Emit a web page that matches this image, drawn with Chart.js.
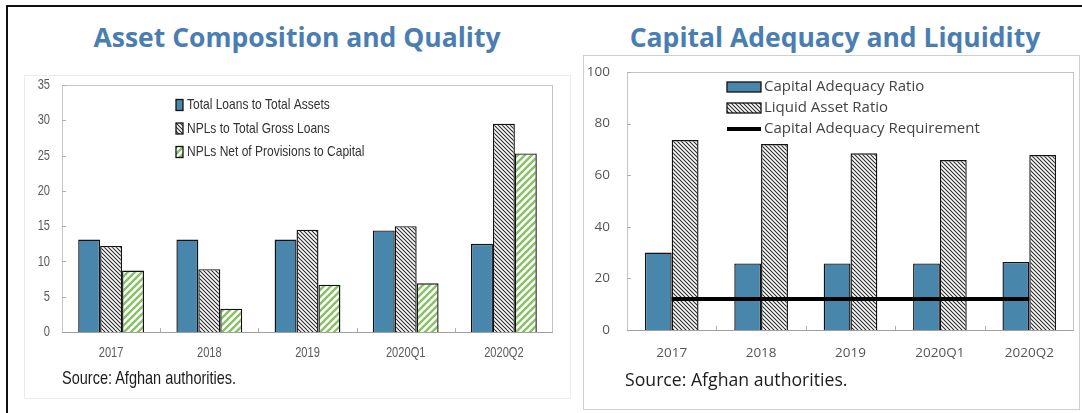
<!DOCTYPE html>
<html><head><meta charset="utf-8">
<script src="https://cdn.jsdelivr.net/npm/chart.js@4.4.1/dist/chart.umd.min.js"></script>
<style>
html,body{margin:0;padding:0;background:#fff}
body{width:1082px;height:413px;position:relative;overflow:hidden;font-family:'Open Sans',sans-serif}
.fTop{position:absolute;left:6px;top:5px;width:1076px;height:2px;background:#111}
.fLeft{position:absolute;left:6px;top:5px;width:2px;height:408px;background:#111}
.title{position:absolute;top:19px;font-weight:700;font-size:26.5px;color:#4a7eb2;text-align:center;white-space:nowrap;line-height:36px}
.panel{position:absolute;box-sizing:border-box}
#p1{left:24px;top:75px;width:547px;height:324px;border:1px solid #ececec}
#p2{left:583px;top:55px;width:497px;height:355px;border:1px solid #cfcfcf}
canvas{position:absolute}
#c1{left:24px;top:75px}
#c2{left:583px;top:55px}
.src{position:absolute;white-space:nowrap;color:#1c1c1c;transform-origin:0 50%}
#s1{left:62px;top:367px;font-family:'Liberation Sans',sans-serif;font-size:18.5px}
#s2{left:625px;top:367px;font-size:17.5px}
</style></head>
<body>
<div class="fTop"></div><div class="fLeft"></div>
<div class="title" style="left:47px;width:500px">Asset Composition and Quality</div>
<div class="title" style="left:585px;width:500px">Capital Adequacy and Liquidity</div>
<div class="panel" id="p1"></div>
<div class="panel" id="p2"></div>
<canvas id="c1" width="546" height="323" style="width:546px;height:323px"></canvas>
<canvas id="c2" width="496" height="354" style="width:496px;height:354px"></canvas>
<div class="src" id="s1">Source: Afghan authorities.</div>
<div class="src" id="s2">Source: Afghan authorities.</div>
<script>
// ---------- data ----------
const categories = ['2017', '2018', '2019', '2020Q1', '2020Q2'];
// Asset Composition and Quality (percent)
const totalLoansToTotalAssets = [13.1, 13.1, 13.1, 14.4, 12.5];
const nplsToTotalGrossLoans = [12.2, 8.9, 14.5, 15.0, 29.5];
const nplsNetOfProvisionsToCapital = [8.7, 3.3, 6.7, 6.9, 25.3];
const leftSeriesNames = ['Total Loans to Total Assets', 'NPLs to Total Gross Loans', 'NPLs Net of Provisions to Capital'];
const leftAxisMax = 35, leftAxisStep = 5;
// Capital Adequacy and Liquidity (percent)
const capitalAdequacyRatio = [30.0, 25.8, 25.8, 25.8, 26.4];
const liquidAssetRatio = [73.6, 72.1, 68.5, 65.9, 67.8];
const capitalAdequacyRequirement = [12, 12, 12, 12, 12];
const rightSeriesNames = ['Capital Adequacy Ratio', 'Liquid Asset Ratio', 'Capital Adequacy Requirement'];
const rightAxisMax = 100, rightAxisStep = 20;

// ---------- styles ----------
const BLUE = '#4886ab';
function hatch(size, color, lw, dir) {
  const c = document.createElement('canvas');
  c.width = size; c.height = size;
  const g = c.getContext('2d');
  g.fillStyle = '#fff'; g.fillRect(0, 0, size, size);
  g.strokeStyle = color; g.lineWidth = lw;
  g.beginPath();
  for (let k = -1; k <= 1; k++) {
    if (dir === 'back') { g.moveTo(k * size - 1, -1); g.lineTo(k * size + size + 1, size + 1); }
    else { g.moveTo(k * size - 1, size + 1); g.lineTo(k * size + size + 1, -1); }
  }
  g.stroke();
  return document.createElement('canvas').getContext('2d').createPattern(c, 'repeat');
}
const grayHatch = hatch(4, '#2a2a2a', 1.1, 'back');
const greenHatch = hatch(7, '#86c163', 2.4, 'fwd');

const lib = "'Liberation Sans',Arial,sans-serif";
const openSans = "'Open Sans',sans-serif";

function condText(ctx, text, x, y, sx, align) {
  ctx.save();
  ctx.translate(x, y);
  ctx.scale(sx, 1);
  ctx.textAlign = align;
  ctx.fillText(text, 0, 0);
  ctx.restore();
}

// plugin: plot frame, inside ticks, condensed tick labels, custom legend
const decor = {
  id: 'decor',
  beforeDatasetsDraw(chart) {
    const {ctx, chartArea: a, scales} = chart;
    ctx.save();
    ctx.strokeStyle = '#c4c4c4'; ctx.lineWidth = 1;
    ctx.strokeRect(a.left + 0.5, a.top + 0.5, a.right - a.left - 1, a.bottom - a.top);
    ctx.strokeStyle = '#b0b0b0';
    ctx.beginPath();
    scales.y.ticks.forEach(t => {
      const y = Math.round(scales.y.getPixelForValue(t.value)) + 0.5;
      ctx.moveTo(a.left, y); ctx.lineTo(a.left + 4, y);
    });
    const n = chart.data.labels.length;
    for (let i = 1; i < n; i++) {
      const x = Math.round((scales.x.getPixelForTick(i - 1) + scales.x.getPixelForTick(i)) / 2) + 0.5;
      ctx.moveTo(x, a.bottom); ctx.lineTo(x, a.bottom - 4);
    }
    ctx.stroke();
    ctx.strokeStyle = '#a0a0a0';
    ctx.beginPath(); ctx.moveTo(a.left, Math.round(a.bottom) + 0.5); ctx.lineTo(a.right, Math.round(a.bottom) + 0.5); ctx.stroke();
    ctx.restore();
  },
  afterDraw(chart, args, o) {
    const {ctx, chartArea: a, scales} = chart;
    ctx.save();
    if (o.labels) {
      const L = o.labels;
      ctx.font = L.font; ctx.fillStyle = L.color; ctx.textBaseline = 'middle';
      scales.y.ticks.forEach(t => {
        condText(ctx, String(t.value), a.left - L.yPad, scales.y.getPixelForValue(t.value), L.sx, 'right');
      });
      chart.data.labels.forEach((lab, i) => {
        condText(ctx, lab, scales.x.getPixelForTick(i), a.bottom + L.xOff, L.sx, 'center');
      });
    }
    ctx.font = o.font; ctx.textBaseline = 'middle';
    o.order.forEach((di, row) => {
      const ds = chart.data.datasets[di];
      const x = a.left + o.dx, y = a.top + o.dy + row * o.rowH;
      if (ds.type === 'line') {
        ctx.strokeStyle = ds.borderColor; ctx.lineWidth = ds.borderWidth;
        ctx.beginPath(); ctx.moveTo(x, y); ctx.lineTo(x + o.bw, y); ctx.stroke();
      } else {
        ctx.fillStyle = ds.backgroundColor;
        ctx.fillRect(x, y - o.bh / 2, o.bw, o.bh);
        ctx.strokeStyle = '#111'; ctx.lineWidth = 1.3;
        ctx.strokeRect(x, y - o.bh / 2, o.bw, o.bh);
      }
      ctx.fillStyle = o.color;
      condText(ctx, ds.label, x + o.bw + o.gap, y, o.sx, 'left');
    });
    ctx.restore();
  }
};

function baseOptions(max, step, yWidth, xHeight, pad, tickFont, yPad, xPad, color, showTicks) {
  return {
    responsive: false, animation: false,
    layout: {padding: pad},
    plugins: {legend: {display: false}, tooltip: {enabled: false}},
    scales: {
      x: {
        grid: {display: false, drawTicks: false, tickLength: 0}, border: {display: false},
        ticks: {display: showTicks, font: tickFont, color: color, padding: xPad, maxRotation: 0},
        afterFit(s) { s.height = xHeight; s.paddingLeft = 0; s.paddingRight = 0; }
      },
      y: {
        min: 0, max: max,
        grid: {display: false, drawTicks: false, tickLength: 0}, border: {display: false},
        ticks: {display: showTicks, stepSize: step, font: tickFont, color: color, padding: yPad},
        afterFit(s) { s.width = yWidth; s.paddingTop = 0; s.paddingBottom = 0; }
      }
    }
  };
}

// ---------- left chart ----------
const o1 = baseOptions(leftAxisMax, leftAxisStep, 38, 66, {top: 10, right: 17, left: 0, bottom: 0},
  {family: lib, size: 13}, 12, 12, '#5a5a5a', false);
o1.plugins.decor = {order: [0, 1, 2], dx: 114, dy: 20, rowH: 23.5, bw: 7, bh: 11, gap: 4, sx: 0.8,
  font: "15px " + lib, color: '#333',
  labels: {font: "15px " + lib, color: '#5a5a5a', sx: 0.74, yPad: 12, xOff: 21}};
new Chart(document.getElementById('c1'), {
  type: 'bar',
  data: {
    labels: categories,
    datasets: [
      {label: leftSeriesNames[0], data: totalLoansToTotalAssets, backgroundColor: BLUE, borderColor: '#111', borderWidth: 1.4, borderSkipped: 'bottom', categoryPercentage: 0.67, barPercentage: 1},
      {label: leftSeriesNames[1], data: nplsToTotalGrossLoans, backgroundColor: grayHatch, borderColor: '#111', borderWidth: 1.4, borderSkipped: 'bottom', categoryPercentage: 0.67, barPercentage: 1},
      {label: leftSeriesNames[2], data: nplsNetOfProvisionsToCapital, backgroundColor: greenHatch, borderColor: '#111', borderWidth: 1.4, borderSkipped: 'bottom', categoryPercentage: 0.67, barPercentage: 1}
    ]
  },
  options: o1,
  plugins: [decor]
});

// ---------- right chart ----------
const o2 = baseOptions(rightAxisMax, rightAxisStep, 44, 79, {top: 17, right: 5, left: 0, bottom: 0},
  {family: openSans, size: 13.5}, 17, 15, '#555', true);
o2.plugins.decor = {order: [1, 2, 0], dx: 100, dy: 15, rowH: 21, bw: 34, bh: 10, gap: 3, sx: 1,
  font: "15px " + openSans, color: '#444', labels: null};
new Chart(document.getElementById('c2'), {
  type: 'bar',
  data: {
    labels: categories,
    datasets: [
      {type: 'line', label: rightSeriesNames[2], data: capitalAdequacyRequirement, borderColor: '#000', borderWidth: 4, pointRadius: 0, order: 0, fill: false},
      {label: rightSeriesNames[0], data: capitalAdequacyRatio, backgroundColor: BLUE, borderColor: '#111', borderWidth: 1.4, borderSkipped: 'bottom', categoryPercentage: 0.6, barPercentage: 1, order: 1},
      {label: rightSeriesNames[1], data: liquidAssetRatio, backgroundColor: grayHatch, borderColor: '#111', borderWidth: 1.4, borderSkipped: 'bottom', categoryPercentage: 0.6, barPercentage: 1, order: 1}
    ]
  },
  options: o2,
  plugins: [decor]
});

// condense the source notes to the original's widths
const s1 = document.getElementById('s1');
s1.style.transform = 'scaleX(' + (174 / s1.offsetWidth) + ')';
const s2 = document.getElementById('s2');
s2.style.transform = 'scaleX(' + (223 / s2.offsetWidth) + ')';
</script>
</body></html>
